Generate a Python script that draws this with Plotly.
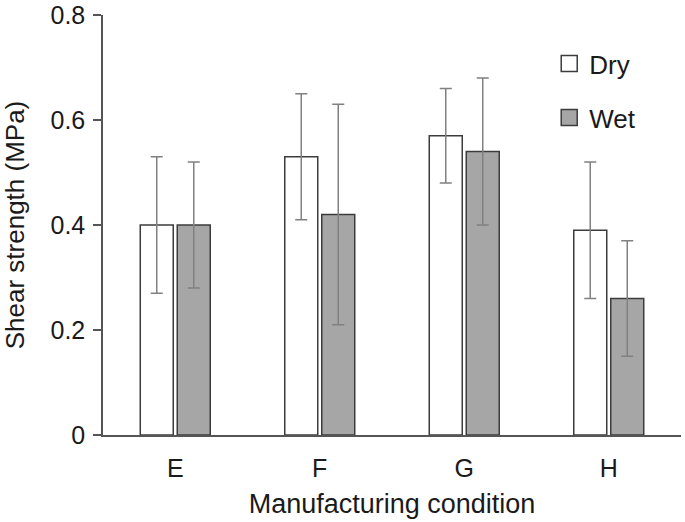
import plotly.graph_objects as go

categories = ["E", "F", "G", "H"]
dry_values = [0.40, 0.53, 0.57, 0.39]
dry_errors = [0.13, 0.12, 0.09, 0.13]
wet_values = [0.40, 0.42, 0.54, 0.26]
wet_errors = [0.12, 0.21, 0.14, 0.11]
y_ticks = [0, 0.2, 0.4, 0.6, 0.8]
y_tick_labels = ["0", "0.2", "0.4", "0.6", "0.8"]

FONT = "Arial, Liberation Sans, sans-serif"
EDGE = "#3c3c3c"
ERR = "#808080"
WET_FILL = "#a6a6a6"

fig = go.Figure()
fig.add_trace(go.Bar(
    x=categories, y=dry_values, name="Dry", showlegend=False,
    marker=dict(color="white", line=dict(color=EDGE, width=1.5)),
    error_y=dict(type="data", array=dry_errors, color=ERR, thickness=1.5, width=6),
))
fig.add_trace(go.Bar(
    x=categories, y=wet_values, name="Wet", showlegend=False,
    marker=dict(color=WET_FILL, line=dict(color=EDGE, width=1.5)),
    error_y=dict(type="data", array=wet_errors, color=ERR, thickness=1.5, width=6),
))
# legend proxies (larger square symbols)
fig.add_trace(go.Scatter(
    x=[None], y=[None], mode="markers", name="Dry", legendgroup="dry",
    marker=dict(symbol="square", size=16, color="white", line=dict(color=EDGE, width=1.5)),
))
fig.add_trace(go.Scatter(
    x=[None], y=[None], mode="markers", name="Wet", legendgroup="wet",
    marker=dict(symbol="square", size=16, color=WET_FILL, line=dict(color=EDGE, width=1.5)),
))

fig.update_layout(
    width=685, height=522,
    margin=dict(l=103, r=4, t=15, b=87),
    paper_bgcolor="white", plot_bgcolor="white",
    barmode="group", bargap=0.488, bargroupgap=0.108,
    font=dict(family=FONT, size=25, color="#1a1a1a"),
    legend=dict(
        x=0.772, y=0.94, xanchor="left", yanchor="top",
        font=dict(size=26), traceorder="grouped", tracegroupgap=17,
        bgcolor="rgba(0,0,0,0)", itemwidth=30,
    ),
    xaxis=dict(
        type="category", range=[-0.5, 3.5], showline=True, linecolor="#555555",
        linewidth=1.5, ticks="", showgrid=False, zeroline=False,
        ticklabelstandoff=10, automargin=False,
        title=dict(text="Manufacturing condition", font=dict(size=27), standoff=13),
    ),
    yaxis=dict(
        range=[0, 0.8], tickvals=y_ticks, ticktext=y_tick_labels,
        showline=True, linecolor="#555555", linewidth=1.5,
        ticks="outside", ticklen=8, tickwidth=1.5, tickcolor="#555555",
        showgrid=False, zeroline=False, ticklabelstandoff=3,
        ticklabeloverflow="allow", automargin=False,
        title=dict(text="Shear strength (MPa)", font=dict(size=26), standoff=32),
    ),
)

fig.write_html(
    "out.html",
    config={"displayModeBar": False},
    post_script="document.body.style.margin='0';",
)
